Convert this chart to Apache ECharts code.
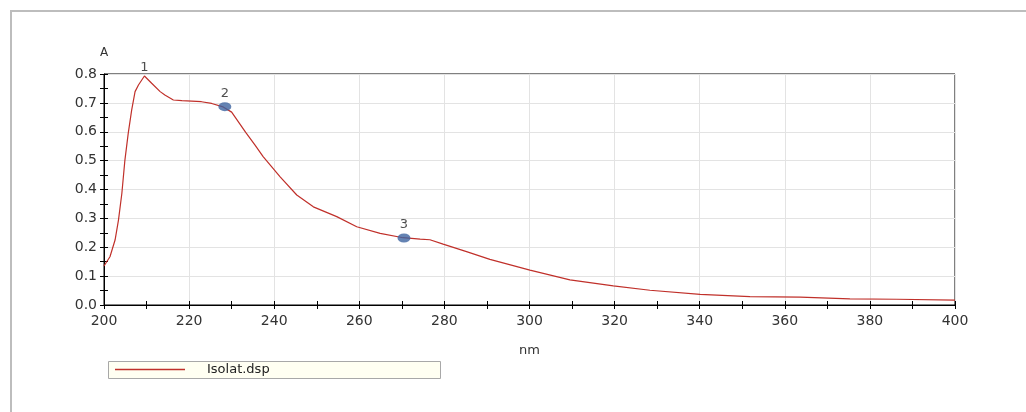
<!DOCTYPE html>
<html><head><meta charset="utf-8">
<script src="https://cdn.jsdelivr.net/npm/echarts@6/dist/echarts.min.js"></script>
<style>html,body{margin:0;padding:0;background:#fff;overflow:hidden}#c{width:1026px;height:412px}</style>
</head><body><div id="c"></div>
<script>
const wavelengths = [200, 200.2, 201.4, 202.6, 203.4, 204.2, 204.9, 205.7, 206.5, 207.3, 208.1, 209.5, 211.2, 213.2, 214.3, 216.3, 218.3, 222.9, 225.3, 228.0, 230.0, 233.3, 235.5, 237.4, 241.4, 245.3, 249.2, 254.7, 259.4, 264.9, 270.3, 274.3, 276.6, 279.7, 285.2, 290.7, 300.1, 309.5, 319.7, 328.3, 340.1, 351.8, 363.6, 375.3, 386.3, 400];
const absorbance = [0.135, 0.139, 0.167, 0.225, 0.294, 0.387, 0.500, 0.595, 0.675, 0.739, 0.762, 0.793, 0.768, 0.739, 0.727, 0.710, 0.708, 0.704, 0.698, 0.686, 0.668, 0.598, 0.554, 0.514, 0.444, 0.381, 0.340, 0.306, 0.271, 0.248, 0.233, 0.228, 0.226, 0.211, 0.185, 0.158, 0.121, 0.087, 0.066, 0.051, 0.037, 0.029, 0.027, 0.021, 0.020, 0.017];
const peakLabels = ['1', '2', '3'];
const peakX = [209.5, 228.4, 270.5];
const peakY = [0.793, 0.687, 0.232];
const peakDot = [false, true, true];
const xTicks = [200, 220, 240, 260, 280, 300, 320, 340, 360, 380, 400];
const yTicks = [0, 0.1, 0.2, 0.3, 0.4, 0.5, 0.6, 0.7, 0.8];
const seriesName = 'Isolat.dsp';
const xName = 'nm', yName = 'A';

const chart = echarts.init(document.getElementById('c'));
const font = 'DejaVu Sans, Verdana, sans-serif';
const lineData = wavelengths.map((w, i) => [w, absorbance[i]]);
const peakData = peakLabels.map((l, i) => ({
  value: [peakX[i], peakY[i]], name: l,
  symbolSize: peakDot[i] ? [13, 9] : 0
}));
const axisCommonX = { type: 'value', min: xTicks[0], max: xTicks[xTicks.length - 1], interval: 20 };
const axisCommonY = { type: 'value', min: yTicks[0], max: yTicks[yTicks.length - 1], interval: 0.1 };
chart.setOption({
  backgroundColor: '#fff',
  animation: false,
  graphic: [
    { type: 'polyline', shape: { points: [[11, 412], [11, 11], [1026, 11]] }, style: { fill: null, stroke: '#bdbdbd', lineWidth: 2 }, z: 0 },
    { type: 'rect', shape: { x: 108.5, y: 361.5, width: 332, height: 17 }, style: { fill: '#fffff2', stroke: '#a8a8a8', lineWidth: 1 }, z: 1 }
  ],
  grid: { left: 104, top: 74, width: 851, height: 231, show: true, borderColor: '#000', borderWidth: 1, backgroundColor: 'transparent' },
  legend: {
    left: 115, top: 363, data: [seriesName], itemWidth: 70, itemHeight: 1.5, icon: 'rect', itemGap: 10,
    padding: 0, z: 5,
    textStyle: { fontFamily: font, fontSize: 13, color: '#222', padding: [0, 0, 0, 17] }
  },
  xAxis: [
    Object.assign({}, axisCommonX, {
      name: xName, nameLocation: 'middle', nameGap: 39,
      nameTextStyle: { fontFamily: font, fontSize: 13, color: '#333' },
      axisLine: { show: true, lineStyle: { color: '#000', width: 1 } },
      axisTick: { show: true, length: 4, lineStyle: { color: '#000' } },
      minorTick: { show: true, splitNumber: 2, length: 4, lineStyle: { color: '#000' } },
      axisLabel: { fontFamily: font, fontSize: 14, color: '#333', margin: 9 },
      splitLine: { show: true, lineStyle: { color: '#e3e3e3', width: 1 } }
    }),
    Object.assign({}, axisCommonX, {
      position: 'bottom',
      axisLine: { show: false },
      axisTick: { show: true, inside: true, length: 4, lineStyle: { color: '#000' } },
      minorTick: { show: true, splitNumber: 2, length: 4, lineStyle: { color: '#000' } },
      axisLabel: { show: false }, splitLine: { show: false }
    })
  ],
  yAxis: [
    Object.assign({}, axisCommonY, {
      name: yName, nameLocation: 'end', nameGap: 15,
      nameTextStyle: { fontFamily: font, fontSize: 12, color: '#333', align: 'center' },
      axisLine: { show: true, lineStyle: { color: '#000', width: 1 } },
      axisTick: { show: true, length: 4, lineStyle: { color: '#000' } },
      minorTick: { show: true, splitNumber: 2, length: 4, lineStyle: { color: '#000' } },
      axisLabel: { fontFamily: font, fontSize: 14, color: '#333', margin: 7, formatter: v => v.toFixed(1) },
      splitLine: { show: true, lineStyle: { color: '#e3e3e3', width: 1 } }
    }),
    Object.assign({}, axisCommonY, {
      position: 'left',
      axisLine: { show: false },
      axisTick: { show: true, inside: true, length: 4, lineStyle: { color: '#000' } },
      minorTick: { show: true, splitNumber: 2, length: 4, lineStyle: { color: '#000' } },
      axisLabel: { show: false }, splitLine: { show: false }
    })
  ],
  series: [
    {
      name: seriesName, type: 'line', data: lineData, showSymbol: false, smooth: false,
      lineStyle: { color: '#c0302a', width: 1.2 }, itemStyle: { color: '#c0302a' }, z: 3
    },
    {
      name: 'peaks', type: 'scatter', data: peakData,
      itemStyle: { color: '#3d64a0' }, z: 4,
      label: { show: true, position: 'top', distance: 2, formatter: p => p.name, fontFamily: font, fontSize: 13, color: '#222' }
    }
  ]
});
</script></body></html>
